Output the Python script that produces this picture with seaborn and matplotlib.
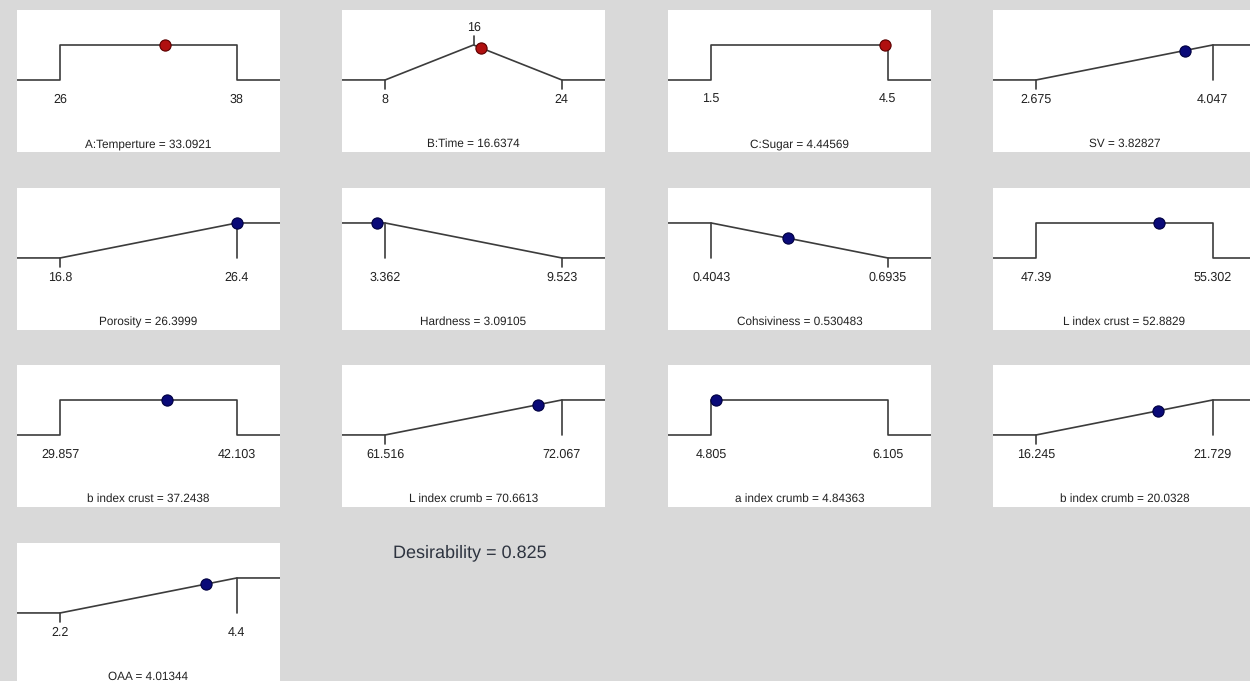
import numpy as np
import pandas as pd
import matplotlib
matplotlib.use("Agg")
import matplotlib.pyplot as plt
import seaborn as sns

# --- DATA (ramp plot of the optimum solution) ---
names = ["A:Temperture", "B:Time", "C:Sugar", "SV", "Porosity", "Hardness",
         "Cohsiviness", "L index crust", "b index crust", "L index crumb",
         "a index crumb", "b index crumb", "OAA"]
goals = ["range", "target", "range", "max", "max", "min",
         "min", "range", "range", "max", "range", "max", "max"]
lows = [26, 8, 1.5, 2.675, 16.8, 3.362, 0.4043, 47.39, 29.857, 61.516, 4.805, 16.245, 2.2]
highs = [38, 24, 4.5, 4.047, 26.4, 9.523, 0.6935, 55.302, 42.103, 72.067, 6.105, 21.729, 4.4]
targets = [None, 16, None, None, None, None, None, None, None, None, None, None, None]
solution = [33.0921, 16.6374, 4.44569, 3.82827, 26.3999, 3.09105, 0.530483,
            52.8829, 37.2438, 70.6613, 4.84363, 20.0328, 4.01344]
is_factor = [True, True, True, False, False, False, False, False, False, False, False, False, False]
desirability = 0.825

sns.set_theme(style="white")
plt.rcParams['font.family'] = ['Liberation Sans', 'DejaVu Sans']
plt.rcParams['text.hinting'] = 'no_hinting'

LINE = "#3c3c3c"
BG = "#d9d9d9"

fig = plt.figure(figsize=(12.5, 6.81), dpi=100)
fig.patch.set_facecolor(BG)

W, H = 1250, 681
col_left = [17, 342, 668, 993]
row_top = [10, 188, 365, 543]
pw, ph = 263, 142


def desir(g, lo, hi, t, x):
    if g == "range":
        return 1.0 if lo <= x <= hi else 0.0
    if g == "max":
        return float(np.clip((x - lo) / (hi - lo), 0, 1))
    if g == "min":
        return float(np.clip((hi - x) / (hi - lo), 0, 1))
    if x <= t:
        return float(np.clip((x - lo) / (t - lo), 0, 1))
    return float(np.clip((hi - x) / (hi - t), 0, 1))


for i, name in enumerate(names):
    r, c = divmod(i, 4)
    left = col_left[c] / W
    bottom = 1 - (row_top[r] + ph) / H
    ax = fig.add_axes([left, bottom, pw / W, ph / H])
    ax.set_facecolor("white")
    for s in ax.spines.values():
        s.set_visible(False)
    ax.set_xticks([])
    ax.set_yticks([])

    lo, hi, t, g = lows[i], highs[i], targets[i], goals[i]
    span = hi - lo
    xmin = lo - 0.165 * span / 0.675
    xmax = hi + 0.165 * span / 0.675
    ax.set_xlim(xmin, xmax)
    ax.set_ylim(-2.06, 2.0)

    if g == "range":
        xs = [xmin, lo, lo, hi, hi, xmax]
        ys = [0, 0, 1, 1, 0, 0]
    elif g == "max":
        xs = [xmin, lo, hi, xmax]
        ys = [0, 0, 1, 1]
    elif g == "min":
        xs = [xmin, lo, hi, xmax]
        ys = [1, 1, 0, 0]
    else:
        xs = [xmin, lo, t, hi, xmax]
        ys = [0, 0, 1, 0, 0]
    curve = pd.DataFrame({"x": xs, "y": ys})
    sns.lineplot(data=curve, x="x", y="y", sort=False, estimator=None,
                 color=LINE, lw=1.2, ax=ax)

    # ticks at the limits
    if g == "max":
        ax.plot([hi, hi], [1, 0], color=LINE, lw=1.2)
        ax.plot([lo, lo], [0, -0.25], color=LINE, lw=1.2)
    elif g == "min":
        ax.plot([lo, lo], [1, 0], color=LINE, lw=1.2)
        ax.plot([hi, hi], [0, -0.25], color=LINE, lw=1.2)
    elif g == "target":
        ax.plot([lo, lo], [0, -0.25], color=LINE, lw=1.2)
        ax.plot([hi, hi], [0, -0.25], color=LINE, lw=1.2)
        ax.plot([t, t], [1, 1.25], color=LINE, lw=1.2)
        ax.text(t, 1.5, f"{t:g}", ha="center", va="center", fontsize=9, color="#222222")

    ax.text(lo, -0.57, f"{lo:g}", ha="center", va="center", fontsize=9, color="#222222")
    ax.text(hi, -0.57, f"{hi:g}", ha="center", va="center", fontsize=9, color="#222222")

    x0 = solution[i]
    pt = pd.DataFrame({"x": [x0], "y": [desir(g, lo, hi, t, x0)]})
    if is_factor[i]:
        fc, ec = "#b01010", "#5a0000"
    else:
        fc, ec = "#0a0a78", "#000040"
    sns.scatterplot(data=pt, x="x", y="y", s=65, color=fc, edgecolor=ec,
                    linewidth=0.8, zorder=5, clip_on=False, ax=ax)
    ax.set_xlabel("")
    ax.set_ylabel("")

    ax.text(0.5, 1 - 134 / ph, f"{name} = {x0:g}", transform=ax.transAxes,
            ha="center", va="center", fontsize=8.5, color="#222222")

fig.text(393 / W, 1 - 553 / H, f"Desirability = {desirability:g}", ha="left", va="center",
         fontsize=13, color="#2e3440")

plt.savefig("out.png", dpi=100, facecolor=BG)
